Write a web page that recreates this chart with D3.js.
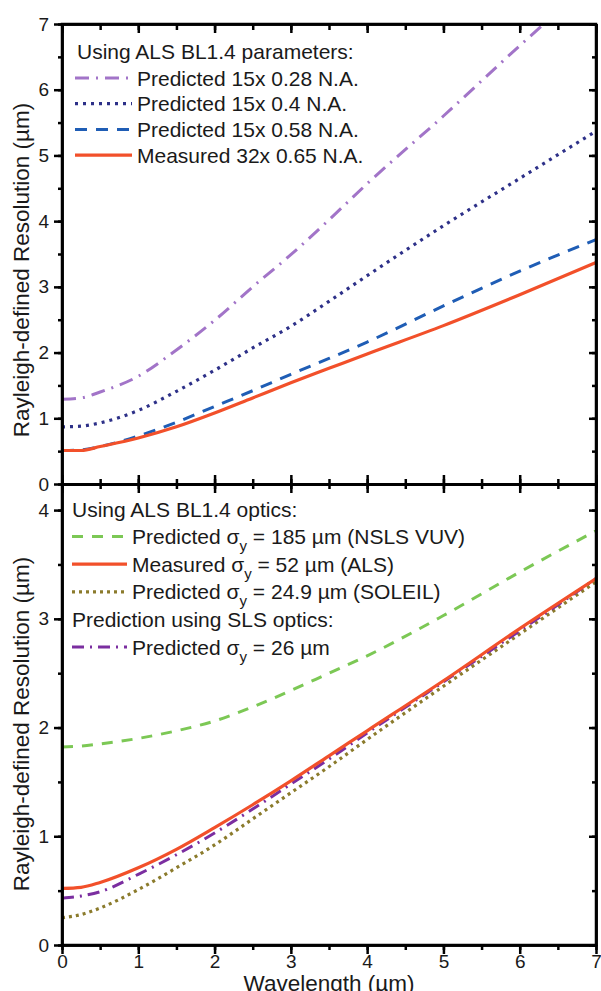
<!DOCTYPE html>
<html>
<head>
<meta charset="utf-8">
<script src="https://cdnjs.cloudflare.com/ajax/libs/d3/7.8.5/d3.min.js"></script>
<style>
  body { margin: 0; background: #fff; }
  svg text { font-family: Arial, "Liberation Sans", sans-serif; fill: #1a1a1a; }
  .axis path, .axis line { stroke: #000; stroke-width: 2.5; }
  .axis text { font-size: 19px; }
</style>
</head>
<body>
<div id="chart"></div>
<script>
// wavelength (um) sample points
var wavelength = [0, 0.25, 0.5, 1, 1.5, 2, 2.5, 3, 3.5, 4, 5, 6, 7];

// top panel: ALS BL1.4 parameters
var topNames = ["Predicted 15x 0.28 N.A.", "Predicted 15x 0.4 N.A.", "Predicted 15x 0.58 N.A.", "Measured 32x 0.65 N.A."];
var pred028 = [1.29, 1.31, 1.40, 1.64, 2.04, 2.49, 3.00, 3.49, 4.02, 4.57, 5.60, 6.67, 7.70];
var pred04  = [0.87, 0.88, 0.93, 1.12, 1.41, 1.73, 2.07, 2.40, 2.78, 3.17, 3.93, 4.65, 5.37];
var pred058 = [0.51, 0.52, 0.57, 0.73, 0.94, 1.18, 1.42, 1.67, 1.91, 2.16, 2.71, 3.24, 3.72];
var meas065 = [0.51, 0.51, 0.57, 0.70, 0.87, 1.08, 1.31, 1.54, 1.76, 1.98, 2.41, 2.88, 3.37];

// bottom panel: source size comparison
var nslsVuv  = [1.82, 1.83, 1.85, 1.90, 1.97, 2.06, 2.19, 2.34, 2.50, 2.66, 3.03, 3.43, 3.81];
var measAls  = [0.52, 0.53, 0.575, 0.71, 0.88, 1.08, 1.29, 1.51, 1.74, 1.97, 2.43, 2.91, 3.37];
var soleil   = [0.25, 0.28, 0.34, 0.51, 0.71, 0.92, 1.16, 1.40, 1.64, 1.89, 2.38, 2.86, 3.34];
var slsPred  = [0.43, 0.45, 0.49, 0.65, 0.83, 1.03, 1.25, 1.48, 1.71, 1.95, 2.42, 2.89, 3.37];

var xTicks = [0, 1, 2, 3, 4, 5, 6, 7];
var yTicksTop = [0, 1, 2, 3, 4, 5, 6, 7];
var yTicksBottom = [0, 1, 2, 3, 4];

var W = 601, H = 991;
// plot box (window.top is reserved, so pTop etc.)
var pLeft = 62, pRight = 596, pTop = 24, pMid = 484, pBottom = 945;

var svg = d3.select("#chart").append("svg")
  .attr("width", W)
  .attr("height", H);

var x = d3.scaleLinear().domain([0, 7]).range([pLeft, pRight]);
var yTop = d3.scaleLinear().domain([0, 7]).range([pMid, pTop]);
var yBot = d3.scaleLinear().domain([0, 4.24]).range([pBottom, pMid]);

var halfSteps = d3.range(0, 7.01, 0.5);

// clip paths
var defs = svg.append("defs");
defs.append("clipPath").attr("id", "clipTop").append("rect")
  .attr("x", pLeft).attr("y", pTop).attr("width", pRight - pLeft).attr("height", pMid - pTop);
defs.append("clipPath").attr("id", "clipBot").append("rect")
  .attr("x", pLeft).attr("y", pMid).attr("width", pRight - pLeft).attr("height", pBottom - pMid);

function drawSeries(g, ys, values, st) {
  var line = d3.line()
    .x(function(d, i) { return x(wavelength[i]); })
    .y(function(d) { return ys(d); })
    .curve(d3.curveMonotoneX);
  g.append("path")
    .datum(values)
    .attr("d", line)
    .attr("fill", "none")
    .attr("stroke", st.color)
    .attr("stroke-width", st.width || 3)
    .attr("stroke-dasharray", st.dash || null);
}

var topStyles = [
  {color: "#a274c8", dash: "14,7,2,7"},
  {color: "#2d3088", dash: "3,5", width: 3.2},
  {color: "#1f5db5", dash: "12,9"},
  {color: "#f2502a", width: 3.2}
];
var botStyles = [
  {color: "#7cc855", dash: "11,9"},
  {color: "#f2502a", width: 3.2},
  {color: "#8b7b2c", dash: "3,4", width: 3.2},
  {color: "#7b2ea0", dash: "12,6,2,6"}
];

var gTop = svg.append("g").attr("clip-path", "url(#clipTop)");
[pred028, pred04, pred058, meas065].forEach(function(v, i) {
  drawSeries(gTop, yTop, v, topStyles[i]);
});

var gBot = svg.append("g").attr("clip-path", "url(#clipBot)");
// draw order: green, olive, purple, red on top
[[nslsVuv, 0], [soleil, 2], [slsPred, 3], [measAls, 1]].forEach(function(p) {
  drawSeries(gBot, yBot, p[0], botStyles[p[1]]);
});

// ---- axes ----
function addAxis(axis, tx, ty) {
  return svg.append("g").attr("class", "axis")
    .attr("transform", "translate(" + tx + "," + ty + ")")
    .call(axis);
}
var noLab = function() { return ""; };

// top panel
addAxis(d3.axisLeft(yTop).tickValues(d3.range(0, 7.01, 0.5)).tickSize(4).tickSizeOuter(0).tickFormat(noLab), pLeft, 0);
addAxis(d3.axisLeft(yTop).tickValues(yTicksTop).tickSize(8).tickSizeOuter(0).tickPadding(5).tickFormat(d3.format("d")), pLeft, 0);
addAxis(d3.axisLeft(yTop).tickValues(d3.range(0, 7.01, 0.5)).tickSize(4).tickSizeOuter(0).tickFormat(noLab), pRight, 0);
addAxis(d3.axisLeft(yTop).tickValues(yTicksTop).tickSize(7).tickSizeOuter(0).tickFormat(noLab), pRight, 0);
addAxis(d3.axisBottom(x).tickValues(halfSteps).tickSize(6).tickSizeOuter(0).tickFormat(noLab), 0, pTop);
addAxis(d3.axisBottom(x).tickValues(xTicks).tickSize(9).tickSizeOuter(0).tickFormat(noLab), 0, pTop);

// shared middle line, ticks cross it
addAxis(d3.axisTop(x).tickValues(halfSteps).tickSize(5).tickSizeOuter(0).tickFormat(noLab), 0, pMid);
addAxis(d3.axisTop(x).tickValues(xTicks).tickSize(9).tickSizeOuter(0).tickFormat(noLab), 0, pMid);
addAxis(d3.axisBottom(x).tickValues(halfSteps).tickSize(5).tickSizeOuter(0).tickFormat(noLab), 0, pMid);
addAxis(d3.axisBottom(x).tickValues(xTicks).tickSize(9).tickSizeOuter(0).tickFormat(noLab), 0, pMid);

// bottom panel
var botHalf = d3.range(0, 4.01, 0.5);
addAxis(d3.axisLeft(yBot).tickValues(botHalf).tickSize(4).tickSizeOuter(0).tickFormat(noLab), pLeft, 0);
addAxis(d3.axisLeft(yBot).tickValues(yTicksBottom).tickSize(8).tickSizeOuter(0).tickPadding(5).tickFormat(d3.format("d")), pLeft, 0);
addAxis(d3.axisLeft(yBot).tickValues(botHalf).tickSize(4).tickSizeOuter(0).tickFormat(noLab), pRight, 0);
addAxis(d3.axisLeft(yBot).tickValues(yTicksBottom).tickSize(7).tickSizeOuter(0).tickFormat(noLab), pRight, 0);
addAxis(d3.axisBottom(x).tickValues(halfSteps).tickSize(5).tickSizeOuter(0).tickFormat(noLab), 0, pBottom);
addAxis(d3.axisBottom(x).tickValues(xTicks).tickSize(9).tickSizeOuter(0).tickPadding(1).tickFormat(d3.format("d")), 0, pBottom);

// frame
svg.append("rect")
  .attr("x", pLeft).attr("y", pTop)
  .attr("width", pRight - pLeft).attr("height", pBottom - pTop)
  .attr("fill", "none").attr("stroke", "#000").attr("stroke-width", 2.5);

// axis titles
var yTitle = "Rayleigh-defined Resolution (\u00b5m)";
svg.append("text")
  .attr("transform", "translate(29,270) rotate(-90)")
  .attr("text-anchor", "middle")
  .style("font-size", "22.5px")
  .text(yTitle);
svg.append("text")
  .attr("transform", "translate(29,724) rotate(-90)")
  .attr("text-anchor", "middle")
  .style("font-size", "22.5px")
  .text(yTitle);
svg.append("text")
  .attr("x", (pLeft + pRight) / 2)
  .attr("y", 991)
  .attr("text-anchor", "middle")
  .style("font-size", "22.5px")
  .text("Wavelength (\u00b5m)");

// ---- legends ----
var fs = 21;

var legTop = svg.append("g");
legTop.append("text").attr("x", 77).attr("y", 59).style("font-size", fs + "px")
  .text("Using ALS BL1.4 parameters:");
topNames.forEach(function(name, i) {
  var yy = 78 + i * 25.7;
  var st = topStyles[i];
  legTop.append("line")
    .attr("x1", 75).attr("x2", 132).attr("y1", yy).attr("y2", yy)
    .attr("stroke", st.color).attr("stroke-width", st.width || 3)
    .attr("stroke-dasharray", st.dash || null);
  legTop.append("text").attr("x", 137).attr("y", yy + 7.5).style("font-size", fs + "px").text(name);
});

var legBot = svg.append("g");
var botRows = [
  {kind: "head", text: "Using ALS BL1.4 optics:"},
  {kind: "item", s: 0, pre: "Predicted ", post: " = 185 \u00b5m (NSLS VUV)"},
  {kind: "item", s: 1, pre: "Measured ", post: " = 52 \u00b5m (ALS)"},
  {kind: "item", s: 2, pre: "Predicted ", post: " = 24.9 \u00b5m (SOLEIL)"},
  {kind: "head", text: "Prediction using SLS optics:"},
  {kind: "item", s: 3, pre: "Predicted ", post: " = 26 \u00b5m"}
];
botRows.forEach(function(r, i) {
  var yy = 509 + i * 27.6;
  if (r.kind === "head") {
    legBot.append("text").attr("x", 72).attr("y", yy + 7.5).style("font-size", fs + "px").text(r.text);
    return;
  }
  var st = botStyles[r.s];
  legBot.append("line")
    .attr("x1", 72).attr("x2", 127).attr("y1", yy).attr("y2", yy)
    .attr("stroke", st.color).attr("stroke-width", st.width || 3)
    .attr("stroke-dasharray", st.dash || null);
  var t = legBot.append("text").attr("x", 132).attr("y", yy + 7.5).style("font-size", fs + "px");
  t.append("tspan").text(r.pre + "\u03c3");
  t.append("tspan").attr("dy", 7).style("font-size", "15px").text("y");
  t.append("tspan").attr("dy", -7).text(r.post);
});
</script>
</body>
</html>
